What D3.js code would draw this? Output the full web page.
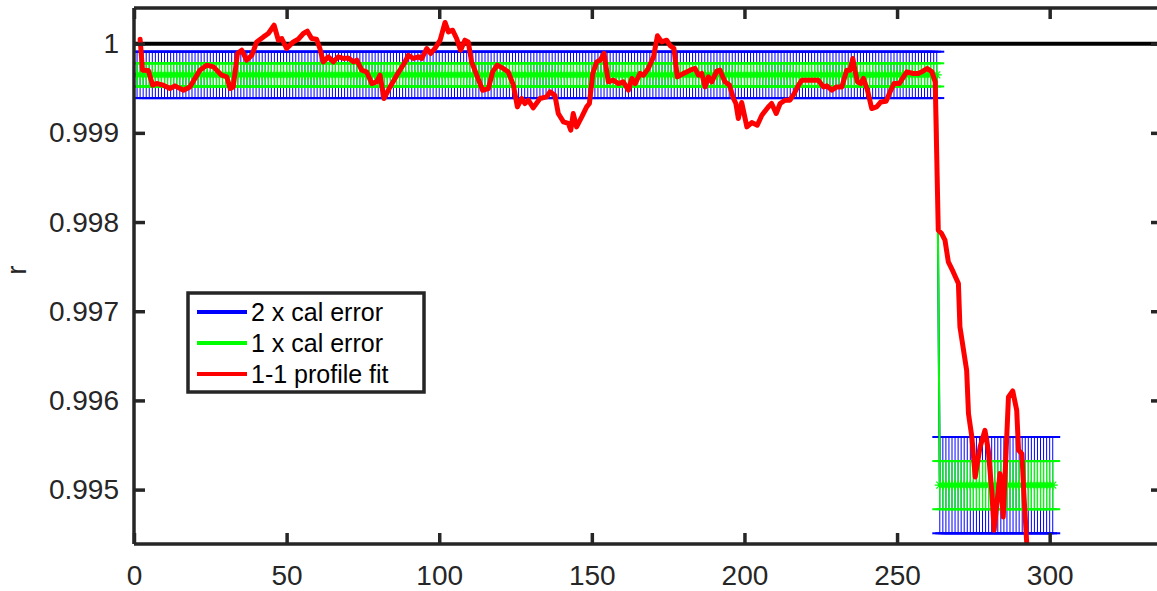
<!DOCTYPE html>
<html>
<head>
<meta charset="utf-8">
<script src="https://cdn.jsdelivr.net/npm/d3@7"></script>
<style>
  body { margin: 0; background: #fff; }
  svg { display: block; font-family: "Liberation Sans", Arial, sans-serif; }
</style>
</head>
<body>
<div id="chart"></div>
<script>
// r vs sample: cal error bands + 1-1 profile fit
const width = 1157, height = 591;

// cal error steps (constant per segment)
const calStart = [1, 264];
const calEnd = [263, 301];
const calMean = [0.99965, 0.99505];
const calSigma = [0.00013, 0.00027];

const xTicks = [0, 50, 100, 150, 200, 250, 300];
const yTicks = [0.995, 0.996, 0.997, 0.998, 0.999, 1];
const legendLabels = ["2 x cal error", "1 x cal error", "1-1 profile fit"];

// red line as [x, r]
const fitPoints = [
  [2, 1.00005], [2.8, 0.999703], [4.7, 0.9997], [6.1, 0.999535], [7.4, 0.999553], [9.6, 0.999535],
  [11.8, 0.999497], [13.4, 0.999527], [16.2, 0.999478], [18.3, 0.999515], [21.6, 0.999703],
  [23.8, 0.999759], [26, 0.99974], [28.7, 0.999647], [30.4, 0.999628], [31.5, 0.999497],
  [32.5, 0.999515], [33.9, 0.99989], [35.3, 0.999927], [36.9, 0.999815], [38.6, 0.99987],
  [40.2, 1.00002], [42.4, 1.000076], [44, 1.000114], [45.9, 1.000207], [47.3, 1.000039],
  [48.4, 1.000058], [50, 0.999946], [52.2, 1.00002], [53.8, 1.00005], [55.5, 1.000114],
  [56.8, 1.00014], [58.2, 1.000058], [59.8, 1.00005], [60.9, 0.999946], [62, 0.999796],
  [63.7, 0.999852], [65.3, 0.999796], [66.9, 0.999852], [68.6, 0.999834], [70.2, 0.99984],
  [71.9, 0.999796], [73, 0.999815], [74.6, 0.999703], [76.2, 0.999684], [77.9, 0.999553],
  [79.5, 0.999572], [80.6, 0.999647], [81.9, 0.999385], [83.9, 0.999515], [86.1, 0.999647],
  [88.5, 0.999778], [89.9, 0.99987], [91.5, 0.999834], [93.2, 0.999852], [94.3, 0.999834],
  [95.9, 0.999946], [97.2, 0.99989], [98.6, 0.999946], [100.3, 1.000039], [101.9, 1.000238],
  [103, 1.000133], [104.4, 1.000151], [105.7, 1.000058], [107, 0.999927], [108.4, 1.000039],
  [109.5, 1.00002], [110.6, 0.999796], [112.3, 0.999647], [114.2, 0.999478], [116.1, 0.999497],
  [117.5, 0.999684], [119, 0.999759], [121, 0.999722], [122.6, 0.999684], [124.3, 0.999535],
  [125.6, 0.999291], [127, 0.999385], [128.1, 0.999329], [129.2, 0.999366], [130.8, 0.99928],
  [133, 0.999385], [135.2, 0.999403], [136.3, 0.999459], [137.9, 0.999422], [139, 0.999217],
  [140.7, 0.999123], [142.3, 0.999105], [143.1, 0.99903], [143.9, 0.999217], [145, 0.999067],
  [146.7, 0.999179], [148.3, 0.999291], [149.2, 0.999329], [150.3, 0.999666], [151.6, 0.999796],
  [152.7, 0.999815], [154, 0.99989], [155.4, 0.999572], [157, 0.999591], [158.7, 0.999553],
  [160.3, 0.999572], [162, 0.999478], [163.1, 0.99961], [164.2, 0.999553], [165.8, 0.999666],
  [166.9, 0.999647], [168.5, 0.999722], [170.2, 0.999852], [171.5, 1.000088], [172.9, 1.00002],
  [174.5, 1.000039], [175.6, 0.99998], [176.9, 0.999946], [178, 0.999628], [180, 0.999666],
  [182.2, 0.999703], [183.8, 0.999722], [184.9, 0.999647], [186, 0.999666], [187.1, 0.999515],
  [188.2, 0.999628], [189.3, 0.999572], [190.9, 0.999692], [192, 0.999703], [193.6, 0.999572],
  [195.1, 0.999535], [196.4, 0.999385], [197.2, 0.999329], [198, 0.999161], [199.1, 0.99934],
  [200.8, 0.999067], [202.4, 0.999116], [204.2, 0.999086], [205.7, 0.999198], [207.8, 0.999291],
  [208.9, 0.999329], [210.4, 0.999217], [211.7, 0.999329], [213.3, 0.999366], [214.9, 0.999366],
  [216.3, 0.999441], [217.7, 0.999535], [218.8, 0.999591], [220.4, 0.999591], [222.1, 0.999591],
  [224.2, 0.999591], [225.9, 0.999515], [227, 0.999527], [228.6, 0.999478], [230.2, 0.999515],
  [231.9, 0.999515], [233.5, 0.999703], [234.6, 0.999703], [235.5, 0.999834], [236.2, 0.999703],
  [237, 0.999572], [238.1, 0.999553], [239, 0.99961], [240.3, 0.999478], [241.7, 0.999273],
  [243.3, 0.999291], [244.7, 0.999347], [246.4, 0.999355], [247.7, 0.999459], [249, 0.999553],
  [250.8, 0.999553], [252.1, 0.999628], [253.2, 0.999684], [255.3, 0.999666], [257, 0.999666],
  [258.1, 0.999684], [259.9, 0.999722], [261.4, 0.999684], [262.5, 0.999572], [263.5, 0.997908],
  [264.6, 0.997871], [265.7, 0.997796], [266.8, 0.997553], [268.4, 0.997441], [270.1, 0.99731],
  [270.6, 0.996824], [272.8, 0.996338], [273.4, 0.995852], [274.5, 0.99559], [275.6, 0.995141],
  [277.2, 0.995478], [278.8, 0.995665], [279.9, 0.995441], [281, 0.994992], [281.8, 0.994543],
  [282.7, 0.994843], [283.7, 0.995179], [284.8, 0.994693], [286.5, 0.996039], [287.9, 0.996106],
  [289.2, 0.995889], [289.8, 0.995441], [290.9, 0.995403], [291.6, 0.994917], [292.5, 0.994393],
  [293, 0.9942]
];

const axisColor = "#262626";
const mLeft = 134, mRight = 1162, mTop = 8, mBottom = 544;

const x = d3.scaleLinear().domain([0, 336.8]).range([mLeft, mRight]);
const y = d3.scaleLinear().domain([0.99439, 1.0004]).range([mBottom, mTop]);

const svg = d3.select("#chart").append("svg")
  .attr("width", width)
  .attr("height", height);

svg.append("clipPath").attr("id", "clip")
  .append("rect")
  .attr("x", mLeft).attr("y", mTop)
  .attr("width", mRight - mLeft).attr("height", mBottom - mTop);

const plot = svg.append("g").attr("clip-path", "url(#clip)");

// reference line at r = 1
plot.append("line")
  .attr("x1", x(0)).attr("x2", x(336.8))
  .attr("y1", y(1)).attr("y2", y(1))
  .attr("stroke", "#000").attr("stroke-width", 4);

// expand the cal steps into per-sample points
const calPoints = [];
calStart.forEach((s, i) => {
  d3.range(s, calEnd[i] + 1).forEach(k => calPoints.push({x: k, m: calMean[i], s: calSigma[i]}));
});

const capW = 7.5;
function errorbars(mult, color, barWidth, capWidth) {
  const g = plot.append("g");
  g.selectAll("line.v").data(calPoints).join("line")
    .attr("x1", d => x(d.x)).attr("x2", d => x(d.x))
    .attr("y1", d => y(d.m + mult * d.s)).attr("y2", d => y(d.m - mult * d.s))
    .attr("stroke", color).attr("stroke-width", barWidth);
  [1, -1].forEach(sign => {
    g.selectAll(null).data(calPoints).join("line")
      .attr("x1", d => x(d.x) - capW).attr("x2", d => x(d.x) + capW)
      .attr("y1", d => y(d.m + sign * mult * d.s)).attr("y2", d => y(d.m + sign * mult * d.s))
      .attr("stroke", color).attr("stroke-width", capWidth);
  });
  return g;
}

const blueG = errorbars(2, "#0000ff", 1, 2);
blueG.append("path").datum(calPoints)
  .attr("fill", "none").attr("stroke", "#0000ff").attr("stroke-width", 2)
  .attr("d", d3.line().x(d => x(d.x)).y(d => y(d.m)));

const greenG = errorbars(1, "#00ff00", 1.3, 2);
greenG.append("path").datum(calPoints)
  .attr("fill", "none").attr("stroke", "#00ff00").attr("stroke-width", 2)
  .attr("d", d3.line().x(d => x(d.x)).y(d => y(d.m)));

// '*' markers
const star = "M-5,0H5M0,-5V5M-3.5,-3.5L3.5,3.5M-3.5,3.5L3.5,-3.5";
greenG.selectAll("path.m").data(calPoints).join("path")
  .attr("class", "m")
  .attr("transform", d => `translate(${x(d.x)},${y(d.m)})`)
  .attr("d", star)
  .attr("fill", "none").attr("stroke", "#00ff00").attr("stroke-width", 1.2);

// 1-1 profile fit
plot.append("path").datum(fitPoints)
  .attr("fill", "none").attr("stroke", "#ff0000").attr("stroke-width", 5)
  .attr("stroke-linejoin", "round").attr("stroke-linecap", "round")
  .attr("d", d3.line().x(d => x(d[0])).y(d => y(d[1])));

// axes (box with ticks on all sides)
const fontSize = 28;
const fmtY = d => d === 1 ? "1" : d3.format(".3f")(d);

const axB = svg.append("g").attr("transform", `translate(0,${mBottom})`)
  .call(d3.axisBottom(x).tickValues(xTicks).tickSize(-11).tickPadding(21).tickFormat(d3.format("d")));
const axT = svg.append("g").attr("transform", `translate(0,${mTop})`)
  .call(d3.axisTop(x).tickValues(xTicks).tickSize(-11).tickFormat(""));
const axL = svg.append("g").attr("transform", `translate(${mLeft},0)`)
  .call(d3.axisLeft(y).tickValues(yTicks).tickSize(-11).tickPadding(15).tickFormat(fmtY));
const axR = svg.append("g").attr("transform", `translate(${mRight},0)`)
  .call(d3.axisRight(y).tickValues(yTicks).tickSize(-11).tickFormat(""));

[axB, axT, axL, axR].forEach(a => {
  a.select(".domain").attr("stroke", axisColor).attr("stroke-width", 3.5);
  a.selectAll(".tick line").attr("stroke", axisColor).attr("stroke-width", 3.5);
  a.selectAll("text").attr("fill", axisColor).style("font-size", fontSize + "px")
    .style("font-family", "'Liberation Sans', Arial, sans-serif");
});
axB.selectAll(".domain").attr("d", `M${mLeft},0H${mRight}`);
axT.selectAll(".domain").attr("d", `M${mLeft},0H${mRight}`);
axL.selectAll(".domain").attr("d", `M0,${mTop}V${mBottom}`);
axR.selectAll(".domain").attr("d", `M0,${mTop}V${mBottom}`);

// y label
svg.append("text")
  .attr("transform", `translate(26,270) rotate(-90)`)
  .attr("text-anchor", "middle")
  .attr("fill", axisColor)
  .style("font-size", fontSize + "px")
  .text("r");

// legend
const legendColors = ["#0000ff", "#00ff00", "#ff0000"];
const lg = svg.append("g").attr("transform", "translate(188,293)");
lg.append("rect").attr("width", 236).attr("height", 99)
  .attr("fill", "#fff").attr("stroke", axisColor).attr("stroke-width", 3.5);
legendLabels.forEach((lab, i) => {
  const yy = 19 + i * 31;
  lg.append("line").attr("x1", 9).attr("x2", 59).attr("y1", yy).attr("y2", yy)
    .attr("stroke", legendColors[i]).attr("stroke-width", 4);
  lg.append("text").attr("x", 63).attr("y", yy + 8.5)
    .attr("fill", "#000").style("font-size", "25px").text(lab);
});
</script>
</body>
</html>
